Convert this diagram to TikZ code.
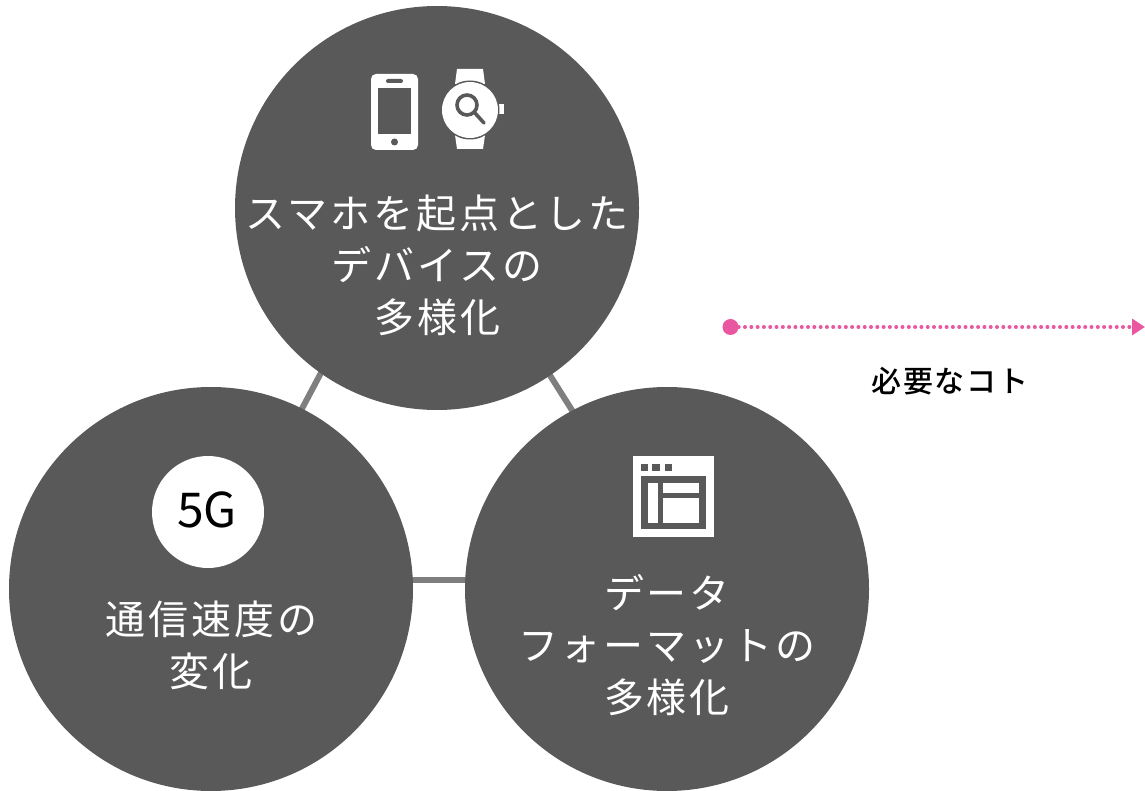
\documentclass[tikz,border=0pt]{standalone}
\usepackage{fontspec}
\usetikzlibrary{arrows.meta}
\setmainfont{Noto Sans CJK JP}
\newfontfamily\cjkbig[LetterSpace=7.5]{Noto Sans CJK JP}
\newfontfamily\cjkmed[LetterSpace=6.5]{Noto Sans CJK JP Medium}
\newfontfamily\latinnum{Noto Sans CJK JP}
\definecolor{disc}{HTML}{595959}
\definecolor{link}{HTML}{7F7F7F}
\definecolor{accent}{HTML}{E8579F}
\tikzset{
  x=1pt,y=-1pt,
  bigdisc/.style={circle,fill=disc,draw=none,minimum size=404pt,inner sep=0pt},
  linkline/.style={draw=link,line width=6pt},
  captiontext/.style={text=white,align=center,font=\fontsize{40pt}{52pt}\selectfont\cjkbig,inner sep=0pt},
  iconwhite/.style={fill=white,draw=none},
  icondark/.style={fill=disc,draw=none}
}
\begin{document}
\begin{tikzpicture}
\useasboundingbox (0,0) rectangle (1145,791);
\coordinate (hubtop) at (425,177);
\coordinate (hubleft) at (211,580);
\coordinate (hubright) at (679,580);
\draw[linkline] (hubtop) -- (hubleft);
\draw[linkline] (hubtop) -- (hubright);
\draw[linkline] (hubleft) -- (hubright);
\node[bigdisc] (top) at (437,208) {};
\node[bigdisc] (left) at (211,589) {};
\node[bigdisc] (right) at (667,589) {};
\node[captiontext] (t1) at (437,265) {スマホを起点とした\\デバイスの\\多様化};
\node[captiontext] (t2) at (211,645) {通信速度の\\変化};
\node[captiontext] (t3) at (667,645) {データ\\フォーマットの\\多様化};
% phone
\fill[iconwhite,rounded corners=5pt] (371,74) rectangle (418,150);
\fill[icondark] (378,88) rectangle (411,134);
\fill[icondark,rounded corners=2pt] (386,79) rectangle (403,83);
\fill[icondark] (394.5,142) circle (3.5);
% watch
\fill[iconwhite] (457,69) -- (483,69) -- (485,84) -- (455,84) -- cycle;
\fill[iconwhite] (455,135) -- (485,135) -- (483,149) -- (457,149) -- cycle;
\fill[iconwhite] (499,104) rectangle (504,114);
\fill[icondark] (470,110) circle (29.5);
\fill[iconwhite] (470,110) circle (28);
\draw[disc,line width=3.6pt] (467,105) circle (10);
\draw[disc,line width=3.6pt,line cap=round] (474.5,112.5) -- (484,123);
% window
\fill[iconwhite] (633,456) rectangle (714,537);
\fill[icondark] (641,464) rectangle (648,471);
\fill[icondark] (652,464) rectangle (660,471);
\fill[icondark] (665,464) rectangle (672,471);
\fill[icondark] (641,476) rectangle (706,529);
\fill[iconwhite] (648,483) rectangle (658,523);
\fill[iconwhite] (663,483) rectangle (699,493);
\fill[iconwhite] (663,498) rectangle (699,523);
% 5G
\node[circle,fill=white,minimum size=112pt,inner sep=0pt] (five) at (208,512) {};
\node[inner sep=0pt,text=black,font=\fontsize{48pt}{48pt}\selectfont\latinnum] (fivetext) at (207,510) {5G};
% arrow
\node[circle,fill=accent,minimum size=16pt,inner sep=0pt] (start) at (730.5,327) {};
\coordinate (stop) at (1145,327);
\draw[accent,line width=4pt,line cap=round,dash pattern=on 0pt off 6.3pt,-{Triangle[length=13pt,width=16pt]}] (start) -- (stop);
\node[font=\fontsize{30pt}{34pt}\selectfont\cjkmed,text=black,inner sep=0pt] (label) at (950,381) {必要なコト};
\end{tikzpicture}
\end{document}
